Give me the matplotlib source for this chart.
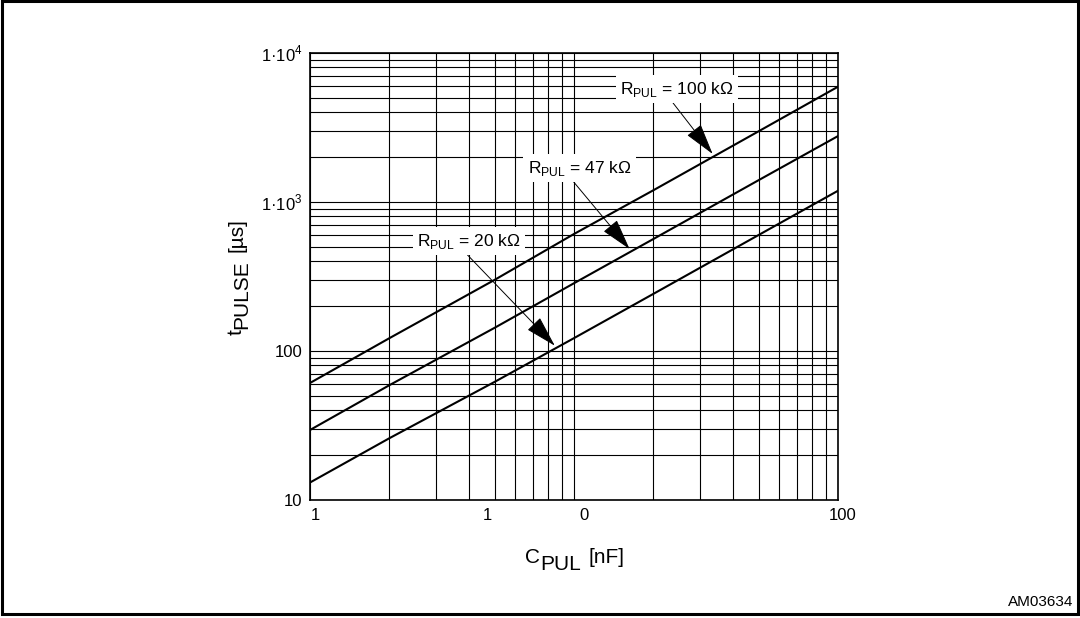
import numpy as np
import matplotlib
matplotlib.use("Agg")
import matplotlib.pyplot as plt
from matplotlib.ticker import FixedLocator, LogLocator, NullFormatter
from matplotlib.patches import Rectangle
from matplotlib.transforms import ScaledTranslation

plt.rcParams['font.family'] = ['Liberation Sans', 'DejaVu Sans']

# capacitance [nF] and pulse time [us]
c_pul = [1, 2, 5, 10, 20, 50, 100]
t_100k = [61, 122, 300, 610, 1200, 2980, 5940]
t_47k = [29.5, 59, 143, 285, 565, 1400, 2770]
t_20k = [13.1, 26, 62, 122, 242, 600, 1190]

curve_names = ['100 k\u03a9', '47 k\u03a9', '20 k\u03a9']
curves = [t_100k, t_47k, t_20k]
# where the arrows hit the curves (C in nF) and where the labels sit
arrow_c = [34.0, 16.5, 8.6]
label_pos = [(24.6, 5730), (10.5, 1690), (4.0, 547)]
label_relpos = [(0.42, 0.1), (0.4, 0.05), (0.41, 0.2)]

yticks = [10, 100, 1000, 10000]
ytick_labels = ['10', '100', '1\u00b710$^\\mathregular{3}$', '1\u00b710$^\\mathregular{4}$']
xticks = [1, 4.5, 10.45, 100]
xtick_labels = ['1', '1', '0', '100']

fig = plt.figure(figsize=(10.8, 6.18), dpi=100)
ax = fig.add_axes([310 / 1080, 118 / 618, 528 / 1080, 447 / 618])
ax.set_xscale('log')
ax.set_yscale('log')
ax.set_xlim(1, 100)
ax.set_ylim(10, 10000)

# grid: x minor locator covers the decades as well, majors carry the odd labels
ax.xaxis.set_major_locator(FixedLocator(xticks))
ax.xaxis.set_minor_locator(LogLocator(base=10, subs=np.arange(1, 10), numticks=20))
ax.xaxis.set_minor_formatter(NullFormatter())
ax.xaxis.remove_overlapping_locs = False
ax.set_xticklabels(xtick_labels)
ax.yaxis.set_major_locator(FixedLocator(yticks))
ax.yaxis.set_minor_locator(LogLocator(base=10, subs=np.arange(2, 10), numticks=20))
ax.yaxis.set_minor_formatter(NullFormatter())
ax.set_yticklabels(ytick_labels)

ax.grid(True, which='minor', axis='x', color='black', lw=0.8)
ax.grid(True, which='both', axis='y', color='black', lw=0.8)
ax.tick_params(which='both', length=0, labelsize=12)
ax.tick_params(axis='y', pad=5.5)
ax.tick_params(axis='x', pad=5.5)
for lab in ax.get_xticklabels():
    lab.set_transform(lab.get_transform() + ScaledTranslation(5 / 100, 0, fig.dpi_scale_trans))
for sp in ax.spines.values():
    sp.set_linewidth(1.2)

for t in curves:
    ax.plot(c_pul, t, color='black', lw=1.5, zorder=3)

for name, t, ac, (lx, ly), rp in zip(curve_names, curves, arrow_c, label_pos, label_relpos):
    ay = 10 ** np.interp(np.log10(ac), np.log10(c_pul), np.log10(t))
    ax.annotate('R$_\\mathregular{PUL}$ = ' + name, xy=(ac, ay), xytext=(lx, ly),
                ha='center', va='center', fontsize=12.5, zorder=5,
                bbox=dict(boxstyle='square,pad=0.25', fc='white', ec='none'),
                arrowprops=dict(arrowstyle='-|>,head_length=1.0,head_width=0.28',
                                mutation_scale=20, fc='black', ec='black', lw=0.7,
                                shrinkA=0, shrinkB=2, relpos=rp))

# axis titles built from pieces so the subscripts keep full size
px = 1 / 1.389
c1 = fig.text(525 / 1080, 55 / 618, 'C', fontsize=15, ha='left', va='baseline')
c2 = ax.annotate('PUL', xy=(1, 0), xycoords=c1, xytext=(0, -7 * px),
                 textcoords='offset points', fontsize=15, ha='left', va='bottom',
                 annotation_clip=False)
ax.annotate('[nF]', xy=(1, 0), xycoords=c2, xytext=(8 * px, 7 * px),
            textcoords='offset points', fontsize=15, ha='left', va='bottom',
            annotation_clip=False)

y1 = fig.text(246 / 1080, (618 - 335) / 618, 't', fontsize=15, rotation=90,
              ha='right', va='bottom')
y2 = ax.annotate('PULSE', xy=(1, 1), xycoords=y1, xytext=(5 * px, 0),
                 textcoords='offset points', fontsize=15, rotation=90,
                 ha='right', va='bottom', annotation_clip=False)
ax.annotate('[\u00b5s]', xy=(1, 1), xycoords=y2, xytext=(-5 * px, 8 * px),
            textcoords='offset points', fontsize=15, rotation=90,
            ha='right', va='bottom', annotation_clip=False)

fig.text(1073 / 1080, (618 - 602) / 618, 'AM03634', fontsize=11, ha='right', va='center')
fig.patches.append(Rectangle((0.002, 0.006), 0.996, 0.992, transform=fig.transFigure,
                             fill=False, ec='black', lw=2.2))

fig.savefig('out.png', dpi=100)
